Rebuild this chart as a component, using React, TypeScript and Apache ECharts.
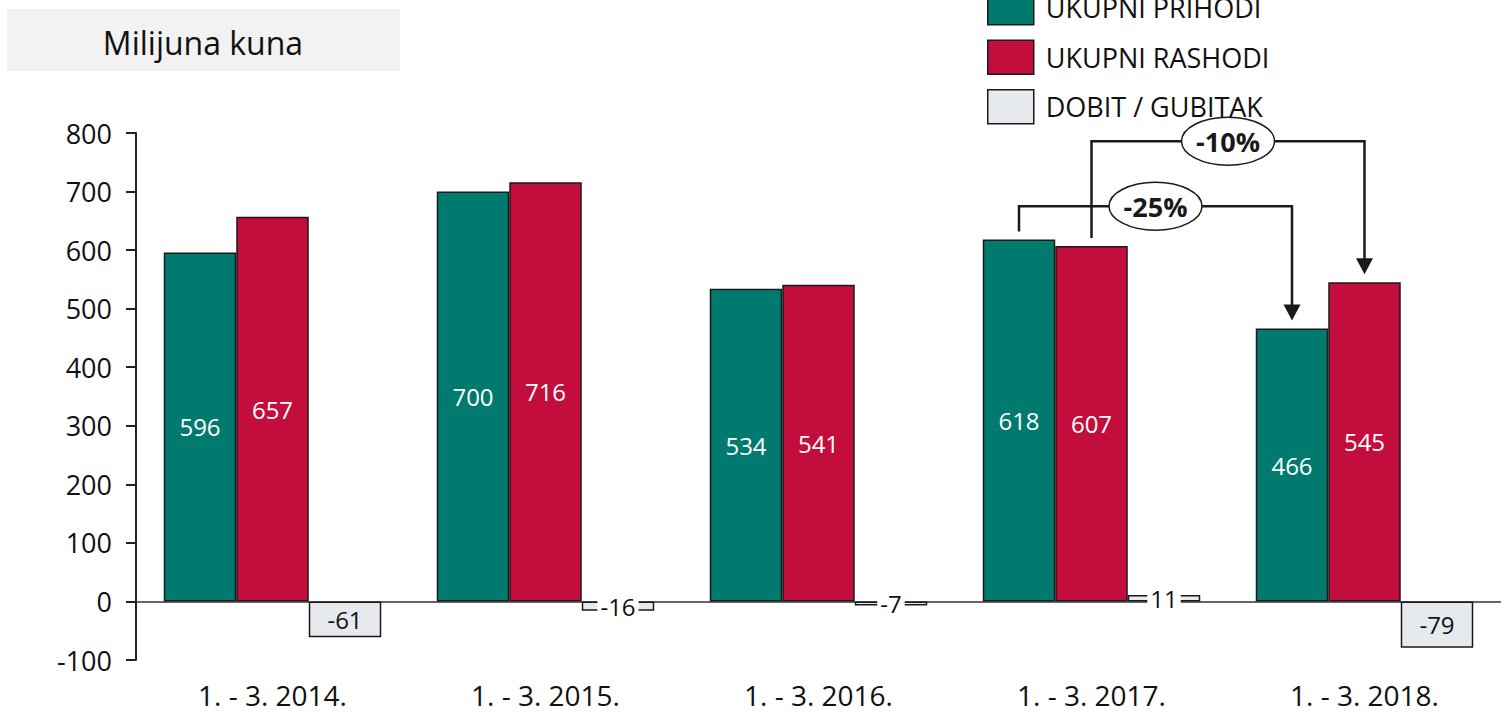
import React, { useEffect, useRef } from "react";
import * as echarts from "echarts";

const categories = ["1. - 3. 2014.", "1. - 3. 2015.", "1. - 3. 2016.", "1. - 3. 2017.", "1. - 3. 2018."];
const seriesNames = ["UKUPNI PRIHODI", "UKUPNI RASHODI", "DOBIT / GUBITAK"];
const prihodi = [596, 700, 534, 618, 466];
const rashodi = [657, 716, 541, 607, 545];
const dobit = [-61, -16, -7, 11, -79];
const yMin = -100;
const yMax = 800;
const yInterval = 100;
const unitLabel = "Milijuna kuna";
// change annotations: series index, from category, to category, bracket level (value units)
const changeLabels = ["-25%", "-10%"];
const changeSeries = [0, 1];
const changeFrom = [3, 3];
const changeTo = [4, 4];
const changeLevel = [675, 786];

const colors = ["#007A6E", "#C30D3C", "#E6E9EE"];
const FONT = "'Open Sans', sans-serif";
const BW = 72.5;

export default function App() {
  const ref = useRef<HTMLDivElement>(null);
  useEffect(() => {
    if (!ref.current) return;
    const chart = echarts.init(ref.current, null, { renderer: "svg" });
    const values = [prihodi, rashodi, dobit];
    const border = { borderColor: "#1a1a1a", borderWidth: 1.5 };
    const option: any = {
      animation: false,
      textStyle: { fontFamily: FONT },
      grid: { left: 136, top: 133, width: 1367, bottom: 58, containLabel: false },
      legend: {
        orient: "vertical",
        left: 987,
        top: -10,
        padding: 0,
        itemWidth: 46,
        itemHeight: 34,
        itemGap: 14,
        icon: "rect",
        itemStyle: { borderColor: "#1a1a1a", borderWidth: 1.5 },
        textStyle: { fontSize: 27, color: "#111", fontFamily: FONT, padding: [0, 0, 0, 7] },
        data: seriesNames,
      },
      xAxis: [
        {
          type: "category",
          data: categories,
          axisLine: { show: true, onZero: true, lineStyle: { color: "#333", width: 1.5 } },
          axisTick: { show: false },
          axisLabel: { show: false },
          splitLine: { show: false },
        },
        {
          type: "category",
          data: categories,
          position: "bottom",
          axisLine: { show: false, onZero: false },
          axisTick: { show: false },
          axisLabel: { show: true, fontSize: 28, color: "#111", fontFamily: FONT, margin: 21 },
          splitLine: { show: false },
        },
      ],
      yAxis: {
        type: "value",
        min: yMin,
        max: yMax,
        interval: yInterval,
        axisLine: { show: true, lineStyle: { color: "#222", width: 2 } },
        axisTick: { show: true, length: 10, inside: false, lineStyle: { color: "#222", width: 2 } },
        axisLabel: { fontSize: 27, color: "#111", fontFamily: FONT, margin: 24 },
        splitLine: { show: false },
      },
      series: seriesNames.map((name, i) => ({
        name,
        type: "bar",
        xAxisIndex: 0,
        barWidth: BW,
        barGap: "0%",
        itemStyle: { color: colors[i], ...border },
        label: {
          show: true,
          position: "inside",
          fontSize: 24,
          fontFamily: FONT,
          color: i < 2 ? "#ffffff" : "#111",
        },
        data: values[i].map((v) =>
          i === 2 && Math.abs(v) < 30
            ? { value: v, label: { backgroundColor: "#ffffff", padding: [0, 3, 0, 3], lineHeight: 22 } }
            : v
        ),
      })),
      graphic: [
        {
          type: "rect",
          shape: { x: 7, y: 9, width: 393, height: 62 },
          style: { fill: "#F2F2F2" },
          z: 1,
        },
        {
          type: "text",
          x: 203,
          y: 42,
          style: {
            text: unitLabel,
            fontSize: 32,
            fontFamily: FONT,
            fill: "#111",
            align: "center",
            verticalAlign: "middle",
          },
          z: 2,
        },
      ],
    };
    chart.setOption(option);

    const toPx = (cat: number, val: number) => chart.convertToPixel({ gridIndex: 0 }, [cat, val]) as number[];
    const extra: any[] = [];
    changeLabels.forEach((lab, k) => {
      const s = changeSeries[k];
      const off = (s - 1) * BW;
      const a = toPx(changeFrom[k], values[s][changeFrom[k]]);
      const b = toPx(changeTo[k], values[s][changeTo[k]]);
      const lv = toPx(changeFrom[k], changeLevel[k]);
      const x1 = a[0] + off;
      const y1 = a[1] - 8;
      const x2 = b[0] + off;
      const tip = b[1] - 8;
      const yl = lv[1];
      extra.push({
        type: "polyline",
        shape: { points: [[x1, y1], [x1, yl], [x2, yl], [x2, tip - 15]] },
        style: { stroke: "#1a1a1a", lineWidth: 2.5, fill: null },
        z: 100 + k,
      });
      extra.push({
        type: "polygon",
        shape: { points: [[x2 - 8.5, tip - 16], [x2 + 8.5, tip - 16], [x2, tip]] },
        style: { fill: "#1a1a1a" },
        z: 100 + k,
      });
      const cx = (x1 + x2) / 2;
      extra.push({
        type: "ellipse",
        shape: { cx, cy: yl, rx: 46.5, ry: 24 },
        style: { fill: "#ffffff", stroke: "#1a1a1a", lineWidth: 1.5 },
        z: 110 + k,
      });
      extra.push({
        type: "text",
        x: cx,
        y: yl,
        style: {
          text: lab,
          fontSize: 27,
          fontWeight: "bold",
          fontFamily: FONT,
          fill: "#1a1a1a",
          align: "center",
          verticalAlign: "middle",
        },
        z: 111 + k,
      });
    });
    chart.setOption({ graphic: [...option.graphic, ...extra] });

    return () => chart.dispose();
  }, []);
  return (
    <div
      ref={ref}
      style={{ position: "absolute", left: 0, top: 0, width: 1501, height: 718 }}
    />
  );
}
